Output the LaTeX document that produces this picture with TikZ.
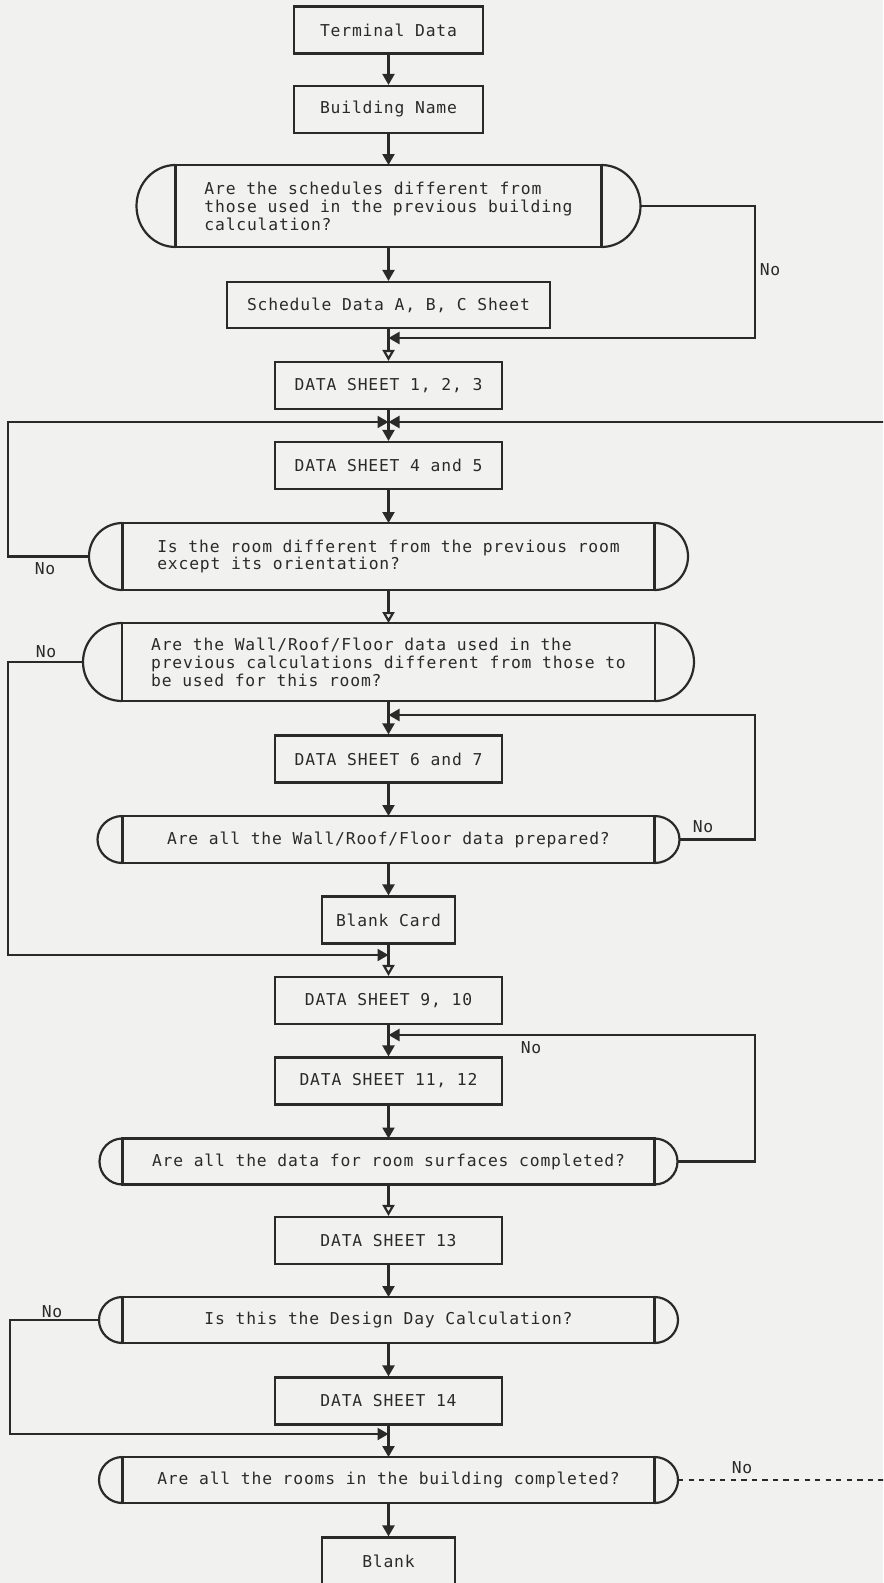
\documentclass[tikz,border=0pt]{standalone}
\usepackage{fontspec}
\usepackage{xcolor}
\usepackage{tikz}
\usetikzlibrary{arrows.meta}
\newfontfamily\typer[LetterSpace=5]{DejaVu Sans Mono}
\definecolor{paper}{RGB}{241,241,239}
\definecolor{ink}{RGB}{42,42,42}

\begin{document}
\begin{tikzpicture}[
    sheet/.style={rectangle, draw=ink, line width=1.25pt, minimum height=0.94cm, align=center, text=ink, font=\typer\fontsize{9.3pt}{10.2pt}\selectfont},
    query/.style={sheet, outer sep=0pt, minimum width=10.64cm},
    capline/.style={draw=ink, line width=1.25pt},
    arrow/.style={-{Triangle[length=2.2mm, width=2.4mm]}, line width=1.25pt, ink},
    openarrow/.style={-{Triangle[open, length=2.2mm, width=2.4mm]}, line width=1.25pt, ink},
    answer/.style={text=ink, font=\typer\fontsize{9.3pt}{10.2pt}\selectfont}
]
    \useasboundingbox (0,0) rectangle (17.66,-31.66);
    \clip (0,0) rectangle (17.66,-31.66);
    \fill[paper] (0,0) rectangle (17.66,-31.66);

    % Main column
    \node[sheet, minimum width=3.78cm] (term) at (7.77,-0.60) {Terminal Data};
    \node[sheet, minimum width=3.78cm] (bname) at (7.77,-2.19) {Building Name};
    \node[query, minimum width=8.52cm, minimum height=1.64cm, align=left] (q1) at (7.77,-4.12) {Are the schedules different from\\those used in the previous building\\calculation?};
    \node[sheet, minimum width=6.46cm, minimum height=0.92cm] (sched) at (7.77,-6.10) {Schedule Data A, B, C Sheet};
    \node[sheet, minimum width=4.54cm] (ds123) at (7.77,-7.71) {DATA SHEET 1, 2, 3};
    \node[sheet, minimum width=4.54cm] (ds45) at (7.77,-9.31) {DATA SHEET 4 and 5};
    \node[query, minimum height=1.34cm, align=left] (q2) at (7.77,-11.13) {Is the room different from the previous room\\except its orientation?};
    \node[query, minimum width=10.66cm, minimum height=1.56cm, align=left] (q3) at (7.77,-13.24) {Are the Wall/Roof/Floor data used in the\\previous calculations different from those to\\be used for this room?};
    \node[sheet, minimum width=4.54cm] (ds67) at (7.77,-15.18) {DATA SHEET 6 and 7};
    \node[query] (q4) at (7.77,-16.79) {Are all the Wall/Roof/Floor data prepared?};
    \node[sheet, minimum width=2.66cm] (bcard) at (7.77,-18.40) {Blank Card};
    \node[sheet, minimum width=4.54cm] (ds910) at (7.77,-20.01) {DATA SHEET 9, 10};
    \node[sheet, minimum width=4.54cm] (ds1112) at (7.77,-21.62) {DATA SHEET 11, 12};
    \node[query, minimum height=0.92cm] (q5) at (7.77,-23.23) {Are all the data for room surfaces completed?};
    \node[sheet, minimum width=4.54cm] (ds13) at (7.77,-24.81) {DATA SHEET 13};
    \node[query, minimum height=0.92cm] (q6) at (7.77,-26.40) {Is this the Design Day Calculation?};
    \node[sheet, minimum width=4.54cm] (ds14) at (7.77,-28.02) {DATA SHEET 14};
    \node[query, minimum height=0.92cm] (q7) at (7.77,-29.60) {Are all the rooms in the building completed?};
    \node[sheet, minimum width=2.66cm] (blank) at (7.77,-31.22) {Blank};

    % Round ends of the questions
    \foreach \q/\rx/\ry in {q1/0.78/0.82, q2/0.67/0.67, q3/0.78/0.78, q4/0.50/0.47, q5/0.46/0.46, q6/0.47/0.46, q7/0.47/0.46}
        \draw[capline] (\q.north east) arc[start angle=90, end angle=-90, x radius=\rx, y radius=\ry]
            (\q.south west) arc[start angle=270, end angle=90, x radius=\rx, y radius=\ry];

    % Junctions
    \coordinate (j1) at (7.77,-6.76);
    \coordinate (j2) at (7.77,-8.44);
    \coordinate (j3) at (7.77,-14.30);
    \coordinate (j4) at (7.77,-19.10);
    \coordinate (j5) at (7.77,-20.70);
    \coordinate (j6) at (7.77,-28.68);
    \coordinate (rgt) at (15.10,0);
    \coordinate (lft) at (0.16,0);
    \coordinate (lft2) at (0.20,0);
    \coordinate (edge) at (17.70,0);

    % Arrows down
    \draw[arrow] (term) -- (bname);
    \draw[arrow] (bname) -- (q1);
    \draw[arrow] (q1) -- (sched);
    \draw[openarrow] (sched) -- (ds123);
    \draw[arrow] (ds123) -- (ds45);
    \draw[arrow] (ds45) -- (q2);
    \draw[openarrow] (q2) -- (q3);
    \draw[arrow] (q3) -- (ds67);
    \draw[arrow] (ds67) -- (q4);
    \draw[arrow] (q4) -- (bcard);
    \draw[openarrow] (bcard) -- (ds910);
    \draw[arrow] (ds910) -- (ds1112);
    \draw[arrow] (ds1112) -- (q5);
    \draw[openarrow] (q5) -- (ds13);
    \draw[arrow] (ds13) -- (q6);
    \draw[arrow] (q6) -- (ds14);
    \draw[arrow] (ds14) -- (q7);
    \draw[arrow] (q7) -- (blank);

    % Loops
    \draw[arrow] ([xshift=0.78cm]q1.east) -| (rgt |- j1) -- (j1);
    \draw[arrow] ([xshift=-0.67cm]q2.west) -| (lft |- j2) -- (j2);
    \draw[arrow] (edge |- j2) -- (j2);
    \draw[arrow] ([xshift=-0.78cm]q3.west) -| (lft |- j4) -- (j4);
    \draw[arrow] ([xshift=0.50cm]q4.east) -| (rgt |- j3) -- (j3);
    \draw[arrow] ([xshift=0.46cm]q5.east) -| (rgt |- j5) -- (j5);
    \draw[arrow] ([xshift=-0.47cm]q6.west) -| (lft2 |- j6) -- (j6);
    \draw[ink, line width=1.25pt, dashed] ([xshift=0.47cm]q7.east) -- (edge |- q7);

    % Labels
    \node[answer] (no1) at (15.40,-5.40) {No};
    \node[answer] (no2) at (0.90,-11.38) {No};
    \node[answer] (no3) at (0.92,-13.04) {No};
    \node[answer] (no4) at (14.06,-16.54) {No};
    \node[answer] (no5) at (10.62,-20.96) {No};
    \node[answer] (no6) at (1.04,-26.24) {No};
    \node[answer] (no7) at (14.84,-29.36) {No};
\end{tikzpicture}
\end{document}
